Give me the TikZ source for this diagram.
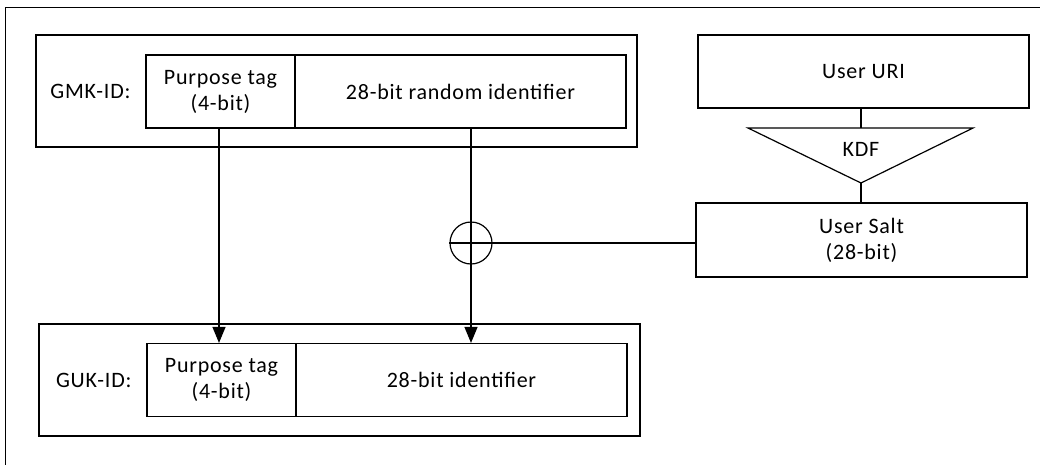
\documentclass[tikz,border=0pt]{standalone}
\usepackage{fontspec}
\setmainfont{Carlito}[LetterSpace=3.5]
\usetikzlibrary{arrows.meta}

\begin{document}
\begin{tikzpicture}[x=1pt,y=-1pt,line width=1.2pt,
	box/.style={draw,minimum height=73pt,align=center,inner sep=0pt},
	>={Triangle[length=16pt,width=13pt]},
	every node/.style={font=\fontsize{22}{26}\selectfont}]
\useasboundingbox(0,0)rectangle(1040,464);
\clip(0,0)rectangle(1040,464);
\draw[line width=1pt](5,7)rectangle(1060,490);
% master key id
\node[draw,minimum width=601pt,minimum height=112pt](gmk)at(336.5,91){};
\node[box,minimum width=149pt](gmktag)at(220.5,91.5){Purpose tag\\(4-bit)};
\node[box,minimum width=331pt](gmkrand)at(460.5,91.5){28-bit random identifier};
\node[anchor=east](gmklbl)at([xshift=-11pt]gmktag.west){GMK-ID:};
% user key id
\node[draw,minimum width=601pt,minimum height=112pt](guk)at(339.5,380){};
\node[box,minimum width=149pt](guktag)at(221.5,380){Purpose tag\\(4-bit)};
\node[box,minimum width=331pt](gukid)at(461.5,380){28-bit identifier};
\node[anchor=east](guklbl)at([xshift=-11pt]guktag.west){GUK-ID:};
% salt from uri
\node[box,minimum width=331pt](uri)at(863.5,71.5){User URI};
\node[box,minimum width=331pt,minimum height=74pt](salt)at(861.5,240){User Salt\\(28-bit)};
\coordinate(kdftop)at(861,128);
\coordinate(kdftip)at(861,183);
\draw(748,128)--(973,128)--(kdftip)--cycle;
\node(kdf)at(861,149){KDF};
\draw(kdftop|-uri.south)--(kdftop)
	(kdftip)--(kdftip|-salt.north);
% xor
\node[draw,circle,minimum size=42pt,inner sep=0pt](xor)at(471,243){};
\draw[->]([xshift=-1.5pt]gmktag.south)--([xshift=-1.5pt]gmktag.south|-guktag.north);
\draw[->](xor|-gmkrand.south)--(xor|-gukid.north);
\draw(xor.west)--(xor-|salt.west);
\end{tikzpicture}
\end{document}
